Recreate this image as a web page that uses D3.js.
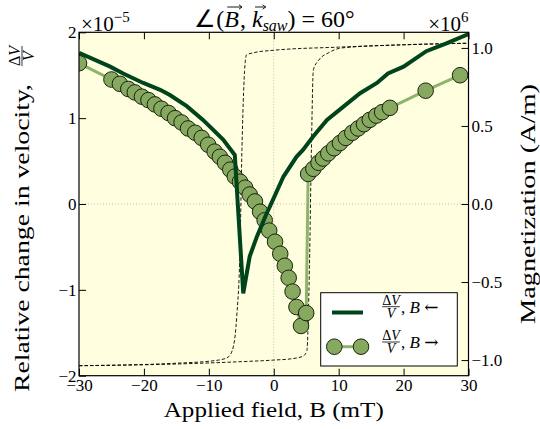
<!DOCTYPE html>
<html><head><meta charset="utf-8">
<script src="https://cdn.jsdelivr.net/npm/d3@7"></script>
<style>
body{margin:0;background:#fff}
svg{display:block}
text{font-family:"Liberation Serif","Times New Roman",serif;fill:#000;white-space:pre}
</style>
</head><body>
<svg id="c" width="540" height="429"></svg>
<script>
// ---------- data ----------
const fieldTicks = [-30, -20, -10, 0, 10, 20, 30];
const dvTicks = [-2, -1, 0, 1, 2];
const magTicks = [-1.0, -0.5, 0.0, 0.5, 1.0];

// B <- sweep (field decreasing), dV/V in units of 1e-5
const sweepDownB  = [30, 26.6, 23.5, 20.0, 17.6, 15.9, 13.3, 10.5, 8.2, 6.1, 4.5, 3.5, 1.5, -0.6, -1.1, -2.6, -3.7, -4.7, -6.0, -7.8, -10.9, -13.4, -16.0, -17.5, -20.1, -23.2, -25.2, -30];
const sweepDownDV = [1.98, 1.87, 1.78, 1.60, 1.52, 1.41, 1.29, 1.12, 0.98, 0.79, 0.63, 0.55, 0.32, -0.03, -0.11, -0.38, -0.61, -1.04, 0.57, 0.75, 0.98, 1.14, 1.27, 1.33, 1.41, 1.52, 1.60, 1.76];

// B -> sweep (field increasing)
const sweepUpB  = [-30, -25.0, -23.7, -22.4, -21.4, -20.3, -19.3, -18.3, -17.3, -16.2, -15.2, -14.2, -13.2, -12.1, -11.1, -10.1, -9.1, -8.3, -7.5, -6.7, -6.0, -5.2, -4.4, -3.7, -2.9, -2.1, -1.4, -0.7, 0.2, 1.0, 1.7, 2.3, 2.9, 3.5, 4.2, 5.0, 5.3, 6.1, 6.9, 7.6, 8.4, 9.3, 10.2, 11.1, 12.1, 13.0, 13.9, 14.8, 15.8, 16.7, 17.9, 23.4, 28.7];
const sweepUpDV = [1.64, 1.45, 1.40, 1.34, 1.30, 1.25, 1.21, 1.16, 1.11, 1.06, 1.00, 0.95, 0.88, 0.83, 0.77, 0.69, 0.61, 0.55, 0.48, 0.40, 0.32, 0.26, 0.19, 0.11, 0.03, -0.09, -0.19, -0.31, -0.44, -0.58, -0.72, -0.86, -1.02, -1.20, -1.42, -1.27, 0.35, 0.41, 0.48, 0.53, 0.59, 0.65, 0.71, 0.77, 0.83, 0.88, 0.93, 0.98, 1.03, 1.07, 1.12, 1.32, 1.50];

// magnetization (units of 1e6 A/m), hysteresis branches
const magDownB = [30, 20, 10, 0, -3, -4.2, -4.5, -4.9, -5.2, -5.7, -6.2, -7.0, -8.5, -15, -30];
const magDownM = [1.03, 1.02, 1.005, 0.985, 0.97, 0.955, 0.85, 0.35, -0.29, -0.72, -0.91, -0.98, -1.0, -1.02, -1.036];
const magUpB = [-30, -15, -5, 0, 3, 4.5, 5.1, 5.5, 5.8, 6.1, 6.9, 8.5, 10.5, 20, 30];
const magUpM = [-1.036, -1.025, -1.01, -1.0, -0.99, -0.975, -0.94, -0.4, 0.35, 0.86, 0.92, 0.97, 1.0, 1.02, 1.03];

// ---------- layout ----------
const L = 79, R = 468.5, T = 32.3, B = 375.7;
const svg = d3.select("#c");
const x = d3.scaleLinear().domain([-30, 30]).range([L, R]);
const y = d3.scaleLinear().domain([-2, 2]).range([B, T]);
const y2 = d3.scaleLinear().domain([-1.1, 1.1]).range([B, T]);

const darkGreen = "#00441b";
const lightLine = "#8cb56a";
const markerFill = "#86a85f";
const markerEdge = "#17240f";
const mr = 7.8;

svg.append("defs").append("clipPath").attr("id", "clip")
  .append("rect").attr("x", L).attr("y", T).attr("width", R - L).attr("height", B - T);

svg.append("rect").attr("x", L).attr("y", T).attr("width", R - L).attr("height", B - T).attr("fill", "#ffffe0");

const plot = svg.append("g").attr("clip-path", "url(#clip)");

// zero lines
plot.append("line").attr("x1", L).attr("x2", R).attr("y1", y(0)).attr("y2", y(0))
  .attr("stroke", "#aaaaaa").attr("stroke-width", 0.8).attr("stroke-dasharray", "1,2");
plot.append("line").attr("x1", x(0)).attr("x2", x(0)).attr("y1", T).attr("y2", B)
  .attr("stroke", "#aaaaaa").attr("stroke-width", 0.8).attr("stroke-dasharray", "1,2");

// magnetization
const magLine = d3.line().x(d => x(d[0])).y(d => y2(d[1])).curve(d3.curveMonotoneX);
const magDown = magDownB.map((b, i) => [b, magDownM[i]]).sort((a, b) => a[0] - b[0]);
const magUp = magUpB.map((b, i) => [b, magUpM[i]]);
[magDown, magUp].forEach(d => {
  plot.append("path").attr("d", magLine(d)).attr("fill", "none")
    .attr("stroke", "#000").attr("stroke-width", 0.9).attr("stroke-dasharray", "3.5,2");
});

// B -> sweep line + markers
const dvLine = d3.line().x(d => x(d[0])).y(d => y(d[1]));
const upData = sweepUpB.map((b, i) => [b, sweepUpDV[i]]);
plot.append("path").attr("d", dvLine(upData)).attr("fill", "none")
  .attr("stroke", lightLine).attr("stroke-width", 3).attr("stroke-linejoin", "round");
plot.selectAll("circle.m").data(upData).join("circle").attr("class", "m")
  .attr("cx", d => x(d[0])).attr("cy", d => y(d[1])).attr("r", mr)
  .attr("fill", markerFill).attr("stroke", markerEdge).attr("stroke-width", 1);

// B <- sweep line
const downData = sweepDownB.map((b, i) => [b, sweepDownDV[i]]);
plot.append("path").attr("d", dvLine(downData)).attr("fill", "none")
  .attr("stroke", darkGreen).attr("stroke-width", 4).attr("stroke-linejoin", "miter");

// ---------- axes ----------
function styleAxis(g) {
  g.attr("font-family", null).attr("font-size", null);
  g.selectAll("text").style("font-size", "17px");
  g.selectAll("line").attr("stroke", "#000").attr("stroke-width", 1);
  g.select(".domain").remove();
}
svg.append("g").attr("transform", `translate(0,${B})`)
  .call(d3.axisBottom(x).tickValues(fieldTicks).tickFormat(d3.format("d")).tickSizeInner(-7).tickSizeOuter(0).tickPadding(3.5))
  .call(styleAxis);
svg.append("g").attr("transform", `translate(0,${T})`)
  .call(d3.axisTop(x).tickValues(fieldTicks).tickFormat("").tickSizeInner(-7).tickSizeOuter(0))
  .call(styleAxis);
svg.append("g").attr("transform", `translate(${L},0)`)
  .call(d3.axisLeft(y).tickValues(dvTicks).tickFormat(d3.format("d")).tickSizeInner(-7).tickSizeOuter(0).tickPadding(2.5))
  .call(styleAxis);
svg.append("g").attr("transform", `translate(${R},0)`)
  .call(d3.axisRight(y2).tickValues(magTicks).tickFormat(d3.format(".1f")).tickSizeInner(-7).tickSizeOuter(0).tickPadding(3))
  .call(styleAxis);

svg.append("rect").attr("x", L).attr("y", T).attr("width", R - L).attr("height", B - T)
  .attr("fill", "none").attr("stroke", "#000").attr("stroke-width", 1.2);

// ---------- rich text helpers ----------
function rich(g, x0, base, segs, anchor) {
  let cur = 0; const items = [];
  segs.forEach(s => {
    const el = g.append("text").attr("y", base + (s.dy || 0))
      .style("font-size", (s.size || 22) + "px").style("font-style", s.italic ? "italic" : "normal").text(s.t);
    if (s.family) el.style("font-family", s.family);
    const w = el.node().getComputedTextLength();
    items.push({ el, off: cur, w, s });
    cur += w + (s.gap || 0);
  });
  const start = anchor === "middle" ? x0 - cur / 2 : anchor === "end" ? x0 - cur : x0;
  items.forEach(o => { o.x = start + o.off; o.el.attr("x", o.x); });
  return { items, start, total: cur };
}
function frac(g, cx, bar, size) {
  const num = g.append("text").attr("x", cx).attr("y", bar - 2).attr("text-anchor", "middle").style("font-size", size + "px");
  num.append("tspan").text("Δ");
  num.append("tspan").style("font-style", "italic").text("V");
  const w = num.node().getComputedTextLength();
  g.append("line").attr("x1", cx - w / 2).attr("x2", cx + w / 2).attr("y1", bar).attr("y2", bar)
    .attr("stroke", "#000").attr("stroke-width", 0.8);
  g.append("text").attr("x", cx).attr("y", bar + size * 0.78).attr("text-anchor", "middle")
    .style("font-size", size + "px").style("font-style", "italic").text("V");
  return w;
}
function arrowOver(g, x0, x1, yy) {
  g.append("path").attr("d", `M${x0},${yy}L${x1},${yy}M${x1 - 3},${yy - 2.2}L${x1},${yy}L${x1 - 3},${yy + 2.2}`)
    .attr("fill", "none").attr("stroke", "#000").attr("stroke-width", 0.9);
}

// title
const title = rich(svg, 274.5, 27, [
  { t: "∠(", size: 24 }, { t: "B", italic: true, gap: 1, size: 24 }, { t: ", ", size: 24 }, { t: "k", italic: true, size: 24 },
  { t: "saw", italic: true, size: 16, dy: 4 }, { t: ")", size: 24 }, { t: " = 60°", size: 24 }
], "middle");
[1, 3].forEach(i => { const it = title.items[i]; arrowOver(svg, it.x + 3, it.x + it.w + 3, 7); });

// offset texts
rich(svg, 81, 31, [{ t: "×10", size: 21 }, { t: "−5", size: 15, dy: -9 }], "start");
rich(svg, R, 31, [{ t: "×10", size: 21 }, { t: "6", size: 15, dy: -9 }], "end");

// x label
svg.append("text").attr("x", (L + R) / 2).attr("y", 417).attr("text-anchor", "middle")
  .style("font-size", "22px").attr("textLength", 220).attr("lengthAdjust", "spacingAndGlyphs")
  .text("Applied field, B (mT)");

// left y label
const yl = svg.append("g").attr("transform", "translate(29,392) rotate(-90)");
yl.append("text").attr("x", 0).attr("y", 0).style("font-size", "22px")
  .attr("textLength", 308).attr("lengthAdjust", "spacingAndGlyphs").text("Relative change in velocity,");
frac(yl, 336, -7, 16);

// right y label
svg.append("g").attr("transform", `translate(535,${(T + B) / 2}) rotate(-90)`)
  .append("text").attr("x", 0).attr("y", 0).attr("text-anchor", "middle").style("font-size", "22px")
  .attr("textLength", 240).attr("lengthAdjust", "spacingAndGlyphs").text("Magnetization (A/m)");

// ---------- legend ----------
const lg = svg.append("g");
lg.append("rect").attr("x", 320.7).attr("y", 292.7).attr("width", 136.6).attr("height", 73.3)
  .attr("fill", "#fff").attr("stroke", "#000").attr("stroke-width", 1);
lg.append("line").attr("x1", 332).attr("x2", 363).attr("y1", 312.5).attr("y2", 312.5)
  .attr("stroke", darkGreen).attr("stroke-width", 4);
lg.append("line").attr("x1", 334.3).attr("x2", 361).attr("y1", 346.7).attr("y2", 346.7)
  .attr("stroke", lightLine).attr("stroke-width", 3);
[334.3, 361].forEach(cx => lg.append("circle").attr("cx", cx).attr("cy", 346.7).attr("r", mr)
  .attr("fill", markerFill).attr("stroke", markerEdge).attr("stroke-width", 1));
const legendLabels = ["←", "→"];
[[306.7, 313], [342, 348]].forEach(([bar, base], i) => {
  frac(lg, 391, bar, 14);
  rich(lg, 401, base, [{ t: ", ", size: 17 }, { t: "B", size: 17, italic: true },
    { t: " ", size: 17 }, { t: legendLabels[i], size: 17, family: "DejaVu Serif" }], "start");
});
</script>
</body></html>
